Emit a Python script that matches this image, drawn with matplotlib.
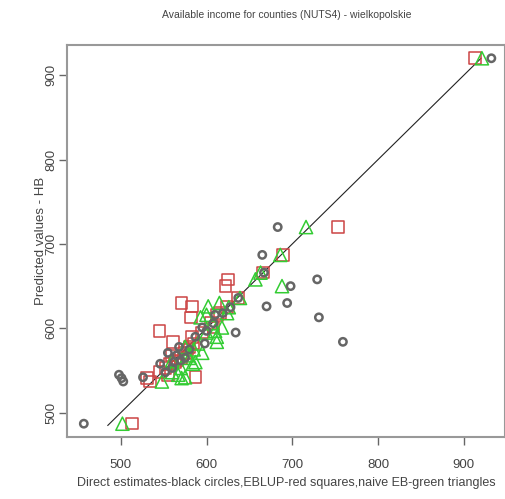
import matplotlib
matplotlib.use("Agg")
import matplotlib.pyplot as plt

plt.rcParams['font.family'] = ['Liberation Sans', 'DejaVu Sans']

# HB predictions per county (y), and the three other estimates (x)
hb = [487, 537, 541, 545, 542, 558, 560, 571, 562, 584, 582, 590, 595, 597, 601,
      613, 618, 616, 626, 630, 636, 650, 658, 666, 687, 720, 920, 548, 553, 565,
      575, 578, 568, 606, 625]
direct = [457, 503, 501, 498, 526, 546, 562, 555, 570, 759, 598, 587, 634, 600, 595,
          731, 619, 610, 670, 694, 637, 698, 729, 667, 665, 683, 932, 552, 560, 575,
          580, 568, 565, 608, 628]
eblup = [513, 534, 531, 555, 587, 557, 563, 575, 566, 561, 585, 583, 595, 545, 608,
         582, 616, 612, 583, 571, 637, 622, 625, 666, 689, 753, 913, 545, 552, 570,
         578, 580, 560, 605, 624]
naive = [502, 548, 571, 567, 575, 584, 587, 595, 560, 612, 590, 612, 600, 610, 618,
         593, 624, 600, 602, 615, 639, 688, 657, 663, 686, 716, 921, 560, 570, 580,
         585, 575, 578, 607, 626]
line_range = [485, 920]

txt = '#444444'
fig = plt.figure(figsize=(5.06, 4.99), dpi=100)
ax = fig.add_axes([0.1324, 0.1242, 0.8656, 0.7856])

ax.plot(line_range, line_range, color='#222222', lw=0.8, zorder=1)
ax.scatter(direct, hb, s=28, facecolors='none', edgecolors='#666666', linewidths=1.8, zorder=3)
ax.scatter(eblup, hb, s=70, marker='s', facecolors='none', edgecolors='#cc4444', linewidths=1.1, zorder=2)
ax.scatter(naive, hb, s=90, marker='^', facecolors='none', edgecolors='#33cc33', linewidths=1.1, zorder=2)

ax.set_xlim(437.4, 947.9)
ax.set_ylim(471.2, 935.7)
ax.set_xticks([500, 600, 700, 800, 900])
ax.set_yticks([500, 600, 700, 800, 900])
for s in ax.spines.values():
    s.set_color('#999999')
    s.set_linewidth(1.5)
ax.tick_params(direction='out', length=6, width=1, color='#666666', labelcolor=txt,
               labelsize=9.5)
ax.tick_params(axis='x', pad=10)
ax.tick_params(axis='y', pad=1)
plt.setp(ax.get_yticklabels(), rotation=90, va='center')

ax.set_xlabel('Direct estimates-black circles,EBLUP-red squares,naive EB-green triangles',
              color=txt, fontsize=9)
ax.set_ylabel('Predicted values - HB', color=txt, fontsize=9.5)
ax.xaxis.label.set_va('center')
ax.yaxis.label.set_va('center')
ax.xaxis.set_label_coords(0.5, -0.117)
ax.yaxis.set_label_coords(-0.06, 0.5)
fig.text(0.566, 0.97, 'Available income for counties (NUTS4) - wielkopolskie',
         ha='center', va='center', color=txt, fontsize=7.5)

fig.savefig('out.png', dpi=100)
